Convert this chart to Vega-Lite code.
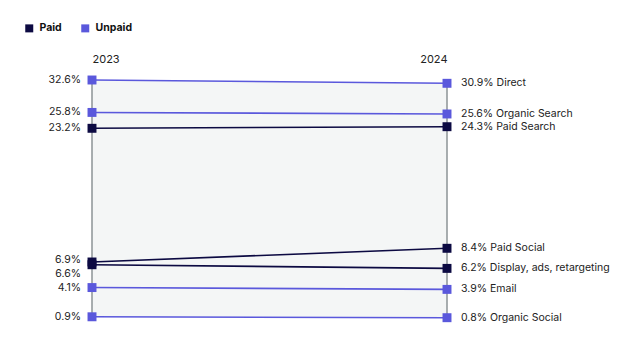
{
  "$schema": "https://vega.github.io/schema/vega-lite/v6.json",
  "width": 626,
  "height": 282,
  "autosize": {"type": "none"},
  "padding": {"top": 70, "left": 0, "right": 0, "bottom": 0},
  "background": "white",
  "config": {
    "view": {"stroke": null},
    "font": "Inter",
    "text": {"font": "Inter"}
  },
  "data": {
    "values": [
      {"channel": "Direct", "type": "Unpaid", "year": 2023, "value": 32.6},
      {"channel": "Direct", "type": "Unpaid", "year": 2024, "value": 30.9},
      {"channel": "Organic Search", "type": "Unpaid", "year": 2023, "value": 25.8},
      {"channel": "Organic Search", "type": "Unpaid", "year": 2024, "value": 25.6},
      {"channel": "Paid Search", "type": "Paid", "year": 2023, "value": 23.2},
      {"channel": "Paid Search", "type": "Paid", "year": 2024, "value": 24.3},
      {"channel": "Paid Social", "type": "Paid", "year": 2023, "value": 6.9},
      {"channel": "Paid Social", "type": "Paid", "year": 2024, "value": 8.4},
      {"channel": "Display, ads, retargeting", "type": "Paid", "year": 2023, "value": 6.6},
      {"channel": "Display, ads, retargeting", "type": "Paid", "year": 2024, "value": 6.2},
      {"channel": "Email", "type": "Unpaid", "year": 2023, "value": 4.1},
      {"channel": "Email", "type": "Unpaid", "year": 2024, "value": 3.9},
      {"channel": "Organic Social", "type": "Unpaid", "year": 2023, "value": 0.9},
      {"channel": "Organic Social", "type": "Unpaid", "year": 2024, "value": 0.8}
    ]
  },
  "layer": [
    {
      "transform": [
        {"aggregate": [{"op": "max", "field": "value", "as": "hi"}, {"op": "min", "field": "value", "as": "lo"}], "groupby": ["year"]}
      ],
      "mark": {"type": "area", "color": "#f4f6f6", "opacity": 1},
      "encoding": {
        "x": {"field": "year", "type": "quantitative", "scale": {"domain": [2023, 2024], "range": [92, 447]},
              "axis": {"orient": "top", "values": [2023, 2024], "format": "d", "title": null, "domain": false, "ticks": false, "grid": false, "labelFontSize": 11, "labelColor": "#222222", "labelPadding": 6, "labelFont": "Inter"}},
        "y": {"field": "hi", "type": "quantitative", "scale": {"domain": [0, 8.4, 23.2, 24.3, 25.7, 30.9, 32.6], "range": [255, 178.3, 58.3, 56.7, 43, 13.3, 10], "zero": false, "nice": false}, "axis": null},
        "y2": {"field": "lo"}
      }
    },
    {
      "transform": [
        {"aggregate": [{"op": "max", "field": "value", "as": "hi"}, {"op": "min", "field": "value", "as": "lo"}], "groupby": ["year"]}
      ],
      "mark": {"type": "rule", "color": "#8c9396", "strokeWidth": 1.5},
      "encoding": {
        "x": {"field": "year", "type": "quantitative"},
        "y": {"field": "hi", "type": "quantitative"},
        "y2": {"field": "lo"}
      }
    },
    {
      "mark": {"type": "line", "strokeWidth": 1.6},
      "encoding": {
        "x": {"field": "year", "type": "quantitative"},
        "y": {"field": "value", "type": "quantitative"},
        "detail": {"field": "channel"},
        "color": {"field": "type", "type": "nominal", "scale": {"domain": ["Paid", "Unpaid"], "range": ["#0c0a42", "#5a58dc"]},
                  "legend": {"orient": "none", "legendX": 24, "legendY": -47, "direction": "horizontal", "title": null, "symbolType": "square", "symbolSize": 64, "symbolStrokeWidth": 0, "labelFontSize": 10.5, "labelFontWeight": "bold", "labelColor": "#111111", "labelFont": "Inter", "columnPadding": 18, "labelOffset": 5}}
      }
    },
    {
      "mark": {"type": "point", "shape": "square", "filled": true, "size": 80, "opacity": 1},
      "encoding": {
        "x": {"field": "year", "type": "quantitative"},
        "y": {"field": "value", "type": "quantitative"},
        "color": {"field": "type", "type": "nominal",
                  "legend": {"orient": "none", "legendX": 24, "legendY": -47, "direction": "horizontal", "title": null, "symbolType": "square", "symbolSize": 64, "symbolStrokeWidth": 0, "labelFontSize": 10.5, "labelFontWeight": "bold", "labelColor": "#111111", "labelFont": "Inter", "columnPadding": 18, "labelOffset": 5}}
      }
    },
    {
      "transform": [
        {"filter": "datum.year == 2023"},
        {"calculate": "format(datum.value, '.1f') + '%'", "as": "label"}
      ],
      "mark": {"type": "text", "align": "right", "baseline": "middle", "dx": -11, "fontSize": 10.5, "color": "#222222",
               "dy": {"expr": "datum.channel == 'Display, ads, retargeting' ? 9 : datum.channel == 'Paid Social' ? -2 : 0"}},
      "encoding": {
        "x": {"field": "year", "type": "quantitative"},
        "y": {"field": "value", "type": "quantitative"},
        "text": {"field": "label"}
      }
    },
    {
      "transform": [
        {"filter": "datum.year == 2024"},
        {"calculate": "format(datum.value, '.1f') + '% ' + datum.channel", "as": "label"}
      ],
      "mark": {"type": "text", "align": "left", "baseline": "middle", "dx": 14, "fontSize": 10.5, "color": "#222222"},
      "encoding": {
        "x": {"field": "year", "type": "quantitative"},
        "y": {"field": "value", "type": "quantitative"},
        "text": {"field": "label"}
      }
    }
  ]
}
